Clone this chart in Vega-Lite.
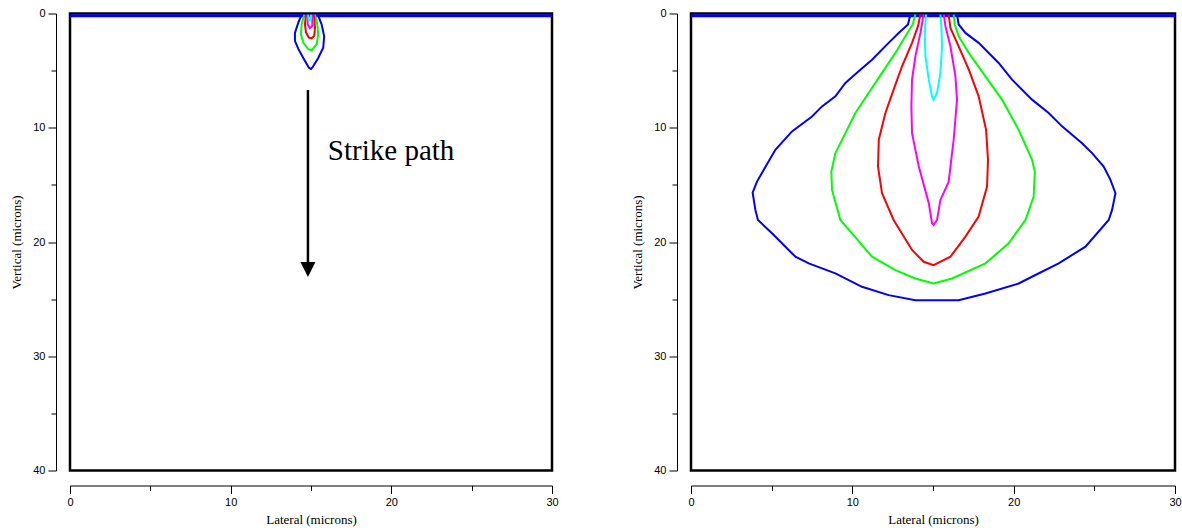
{
  "$schema": "https://vega.github.io/schema/vega-lite/v6.json",
  "background": "white",
  "padding": {"left": 9, "top": 5.5, "right": 0, "bottom": 0},
  "spacing": 70,
  "config": {
    "view": {"stroke": "black", "strokeWidth": 2.5},
    "axis": {
      "grid": false,
      "domainColor": "black",
      "tickColor": "black",
      "labelColor": "black",
      "titleColor": "black",
      "labelFont": "Liberation Sans",
      "labelFontSize": 11,
      "titleFont": "Liberation Serif",
      "titleFontSize": 13,
      "titleFontWeight": "normal",
      "labelFlush": false,
      "labelOverlap": false
    }
  },
  "datasets": {
    "contours": [
      {"p": "L", "c": "blue", "i": 0, "x": 14.42, "y": 0.1},
      {"p": "L", "c": "blue", "i": 1, "x": 14.21, "y": 0.8},
      {"p": "L", "c": "blue", "i": 2, "x": 14.0, "y": 1.7},
      {"p": "L", "c": "blue", "i": 3, "x": 14.0, "y": 2.4},
      {"p": "L", "c": "blue", "i": 4, "x": 14.21, "y": 3.1},
      {"p": "L", "c": "blue", "i": 5, "x": 14.52, "y": 3.9},
      {"p": "L", "c": "blue", "i": 6, "x": 14.87, "y": 4.75},
      {"p": "L", "c": "blue", "i": 7, "x": 15.0, "y": 4.85},
      {"p": "L", "c": "blue", "i": 8, "x": 15.1, "y": 4.7},
      {"p": "L", "c": "blue", "i": 9, "x": 15.45, "y": 3.9},
      {"p": "L", "c": "blue", "i": 10, "x": 15.76, "y": 3.0},
      {"p": "L", "c": "blue", "i": 11, "x": 15.82, "y": 2.0},
      {"p": "L", "c": "blue", "i": 12, "x": 15.66, "y": 0.95},
      {"p": "L", "c": "blue", "i": 13, "x": 15.45, "y": 0.2},
      {"p": "L", "c": "blue", "i": 14, "x": 15.4, "y": 0.1},
      {"p": "L", "c": "green", "i": 0, "x": 14.58, "y": 0.1},
      {"p": "L", "c": "green", "i": 1, "x": 14.42, "y": 0.94},
      {"p": "L", "c": "green", "i": 2, "x": 14.37, "y": 1.82},
      {"p": "L", "c": "green", "i": 3, "x": 14.52, "y": 2.54},
      {"p": "L", "c": "green", "i": 4, "x": 14.83, "y": 3.13},
      {"p": "L", "c": "green", "i": 5, "x": 15.04, "y": 3.22},
      {"p": "L", "c": "green", "i": 6, "x": 15.35, "y": 2.69},
      {"p": "L", "c": "green", "i": 7, "x": 15.45, "y": 1.82},
      {"p": "L", "c": "green", "i": 8, "x": 15.39, "y": 0.94},
      {"p": "L", "c": "green", "i": 9, "x": 15.25, "y": 0.1},
      {"p": "L", "c": "red", "i": 0, "x": 14.69, "y": 0.1},
      {"p": "L", "c": "red", "i": 1, "x": 14.62, "y": 0.94},
      {"p": "L", "c": "red", "i": 2, "x": 14.69, "y": 1.67},
      {"p": "L", "c": "red", "i": 3, "x": 14.87, "y": 2.11},
      {"p": "L", "c": "red", "i": 4, "x": 15.04, "y": 2.17},
      {"p": "L", "c": "red", "i": 5, "x": 15.2, "y": 1.96},
      {"p": "L", "c": "red", "i": 6, "x": 15.25, "y": 1.23},
      {"p": "L", "c": "red", "i": 7, "x": 15.2, "y": 0.35},
      {"p": "L", "c": "red", "i": 8, "x": 15.14, "y": 0.1},
      {"p": "L", "c": "magenta", "i": 0, "x": 14.79, "y": 0.1},
      {"p": "L", "c": "magenta", "i": 1, "x": 14.79, "y": 0.94},
      {"p": "L", "c": "magenta", "i": 2, "x": 14.93, "y": 1.29},
      {"p": "L", "c": "magenta", "i": 3, "x": 15.08, "y": 1.08},
      {"p": "L", "c": "magenta", "i": 4, "x": 15.08, "y": 0.35},
      {"p": "L", "c": "magenta", "i": 5, "x": 15.04, "y": 0.1},
      {"p": "L", "c": "cyan", "i": 0, "x": 14.83, "y": 0.1},
      {"p": "L", "c": "cyan", "i": 1, "x": 14.85, "y": 0.5},
      {"p": "L", "c": "cyan", "i": 2, "x": 14.93, "y": 0.62},
      {"p": "L", "c": "cyan", "i": 3, "x": 15.0, "y": 0.5},
      {"p": "L", "c": "cyan", "i": 4, "x": 15.0, "y": 0.1},

      {"p": "R", "c": "blue", "i": 0, "x": 13.6, "y": 0.09},
      {"p": "R", "c": "blue", "i": 1, "x": 13.45, "y": 0.96},
      {"p": "R", "c": "blue", "i": 2, "x": 12.87, "y": 1.7},
      {"p": "R", "c": "blue", "i": 3, "x": 12.25, "y": 2.57},
      {"p": "R", "c": "blue", "i": 4, "x": 11.22, "y": 4.04},
      {"p": "R", "c": "blue", "i": 5, "x": 10.39, "y": 5.06},
      {"p": "R", "c": "blue", "i": 6, "x": 9.57, "y": 6.08},
      {"p": "R", "c": "blue", "i": 7, "x": 8.95, "y": 7.25},
      {"p": "R", "c": "blue", "i": 8, "x": 8.12, "y": 8.13},
      {"p": "R", "c": "blue", "i": 9, "x": 7.5, "y": 9.01},
      {"p": "R", "c": "blue", "i": 10, "x": 6.26, "y": 10.32},
      {"p": "R", "c": "blue", "i": 11, "x": 5.23, "y": 11.93},
      {"p": "R", "c": "blue", "i": 12, "x": 4.51, "y": 13.68},
      {"p": "R", "c": "blue", "i": 13, "x": 4.09, "y": 14.71},
      {"p": "R", "c": "blue", "i": 14, "x": 3.82, "y": 15.67},
      {"p": "R", "c": "blue", "i": 15, "x": 3.99, "y": 17.19},
      {"p": "R", "c": "blue", "i": 16, "x": 4.15, "y": 18.07},
      {"p": "R", "c": "blue", "i": 17, "x": 5.02, "y": 19.24},
      {"p": "R", "c": "blue", "i": 18, "x": 6.47, "y": 21.29},
      {"p": "R", "c": "blue", "i": 19, "x": 7.3, "y": 21.87},
      {"p": "R", "c": "blue", "i": 20, "x": 8.95, "y": 22.75},
      {"p": "R", "c": "blue", "i": 21, "x": 10.6, "y": 23.92},
      {"p": "R", "c": "blue", "i": 22, "x": 12.25, "y": 24.65},
      {"p": "R", "c": "blue", "i": 23, "x": 13.91, "y": 25.09},
      {"p": "R", "c": "blue", "i": 24, "x": 16.59, "y": 25.09},
      {"p": "R", "c": "blue", "i": 25, "x": 18.25, "y": 24.5},
      {"p": "R", "c": "blue", "i": 26, "x": 20.31, "y": 23.63},
      {"p": "R", "c": "blue", "i": 27, "x": 21.35, "y": 22.89},
      {"p": "R", "c": "blue", "i": 28, "x": 22.79, "y": 21.87},
      {"p": "R", "c": "blue", "i": 29, "x": 24.45, "y": 20.41},
      {"p": "R", "c": "blue", "i": 30, "x": 25.89, "y": 18.07},
      {"p": "R", "c": "blue", "i": 31, "x": 26.1, "y": 17.19},
      {"p": "R", "c": "blue", "i": 32, "x": 26.31, "y": 15.73},
      {"p": "R", "c": "blue", "i": 33, "x": 26.0, "y": 14.56},
      {"p": "R", "c": "blue", "i": 34, "x": 25.58, "y": 13.39},
      {"p": "R", "c": "blue", "i": 35, "x": 24.86, "y": 12.22},
      {"p": "R", "c": "blue", "i": 36, "x": 24.24, "y": 11.35},
      {"p": "R", "c": "blue", "i": 37, "x": 23.0, "y": 9.88},
      {"p": "R", "c": "blue", "i": 38, "x": 22.17, "y": 8.71},
      {"p": "R", "c": "blue", "i": 39, "x": 21.14, "y": 7.54},
      {"p": "R", "c": "blue", "i": 40, "x": 19.9, "y": 5.79},
      {"p": "R", "c": "blue", "i": 41, "x": 19.07, "y": 4.33},
      {"p": "R", "c": "blue", "i": 42, "x": 17.83, "y": 2.57},
      {"p": "R", "c": "blue", "i": 43, "x": 17.01, "y": 1.7},
      {"p": "R", "c": "blue", "i": 44, "x": 16.59, "y": 0.96},
      {"p": "R", "c": "blue", "i": 45, "x": 16.49, "y": 0.09},
      {"p": "R", "c": "green", "i": 0, "x": 13.91, "y": 0.09},
      {"p": "R", "c": "green", "i": 1, "x": 13.74, "y": 0.96},
      {"p": "R", "c": "green", "i": 2, "x": 13.29, "y": 1.99},
      {"p": "R", "c": "green", "i": 3, "x": 12.67, "y": 3.45},
      {"p": "R", "c": "green", "i": 4, "x": 11.84, "y": 5.2},
      {"p": "R", "c": "green", "i": 5, "x": 11.01, "y": 6.96},
      {"p": "R", "c": "green", "i": 6, "x": 10.19, "y": 8.71},
      {"p": "R", "c": "green", "i": 7, "x": 9.57, "y": 10.47},
      {"p": "R", "c": "green", "i": 8, "x": 8.95, "y": 12.22},
      {"p": "R", "c": "green", "i": 9, "x": 8.7, "y": 13.83},
      {"p": "R", "c": "green", "i": 10, "x": 8.74, "y": 15.44},
      {"p": "R", "c": "green", "i": 11, "x": 9.26, "y": 18.07},
      {"p": "R", "c": "green", "i": 12, "x": 9.98, "y": 19.24},
      {"p": "R", "c": "green", "i": 13, "x": 11.22, "y": 21.29},
      {"p": "R", "c": "green", "i": 14, "x": 12.67, "y": 22.46},
      {"p": "R", "c": "green", "i": 15, "x": 13.91, "y": 23.19},
      {"p": "R", "c": "green", "i": 16, "x": 15.04, "y": 23.63},
      {"p": "R", "c": "green", "i": 17, "x": 16.18, "y": 23.19},
      {"p": "R", "c": "green", "i": 18, "x": 18.25, "y": 21.87},
      {"p": "R", "c": "green", "i": 19, "x": 19.69, "y": 20.12},
      {"p": "R", "c": "green", "i": 20, "x": 20.73, "y": 18.07},
      {"p": "R", "c": "green", "i": 21, "x": 21.24, "y": 16.02},
      {"p": "R", "c": "green", "i": 22, "x": 21.31, "y": 13.83},
      {"p": "R", "c": "green", "i": 23, "x": 21.14, "y": 12.81},
      {"p": "R", "c": "green", "i": 24, "x": 20.31, "y": 10.18},
      {"p": "R", "c": "green", "i": 25, "x": 19.28, "y": 7.54},
      {"p": "R", "c": "green", "i": 26, "x": 18.25, "y": 5.5},
      {"p": "R", "c": "green", "i": 27, "x": 17.22, "y": 3.45},
      {"p": "R", "c": "green", "i": 28, "x": 16.59, "y": 1.99},
      {"p": "R", "c": "green", "i": 29, "x": 16.35, "y": 0.96},
      {"p": "R", "c": "green", "i": 30, "x": 16.28, "y": 0.09},
      {"p": "R", "c": "red", "i": 0, "x": 14.22, "y": 0.09},
      {"p": "R", "c": "red", "i": 1, "x": 14.07, "y": 1.11},
      {"p": "R", "c": "red", "i": 2, "x": 13.7, "y": 2.57},
      {"p": "R", "c": "red", "i": 3, "x": 13.08, "y": 4.62},
      {"p": "R", "c": "red", "i": 4, "x": 12.56, "y": 6.67},
      {"p": "R", "c": "red", "i": 5, "x": 12.05, "y": 8.71},
      {"p": "R", "c": "red", "i": 6, "x": 11.64, "y": 11.05},
      {"p": "R", "c": "red", "i": 7, "x": 11.59, "y": 13.39},
      {"p": "R", "c": "red", "i": 8, "x": 11.84, "y": 15.73},
      {"p": "R", "c": "red", "i": 9, "x": 12.56, "y": 18.07},
      {"p": "R", "c": "red", "i": 10, "x": 13.7, "y": 20.7},
      {"p": "R", "c": "red", "i": 11, "x": 14.42, "y": 21.73},
      {"p": "R", "c": "red", "i": 12, "x": 15.04, "y": 22.02},
      {"p": "R", "c": "red", "i": 13, "x": 16.08, "y": 21.29},
      {"p": "R", "c": "red", "i": 14, "x": 17.01, "y": 19.53},
      {"p": "R", "c": "red", "i": 15, "x": 17.83, "y": 17.78},
      {"p": "R", "c": "red", "i": 16, "x": 18.35, "y": 15.15},
      {"p": "R", "c": "red", "i": 17, "x": 18.41, "y": 12.81},
      {"p": "R", "c": "red", "i": 18, "x": 18.29, "y": 10.18},
      {"p": "R", "c": "red", "i": 19, "x": 17.83, "y": 7.25},
      {"p": "R", "c": "red", "i": 20, "x": 17.22, "y": 4.91},
      {"p": "R", "c": "red", "i": 21, "x": 16.59, "y": 2.87},
      {"p": "R", "c": "red", "i": 22, "x": 16.08, "y": 1.26},
      {"p": "R", "c": "red", "i": 23, "x": 15.97, "y": 0.09},
      {"p": "R", "c": "magenta", "i": 0, "x": 14.42, "y": 0.09},
      {"p": "R", "c": "magenta", "i": 1, "x": 14.22, "y": 1.7},
      {"p": "R", "c": "magenta", "i": 2, "x": 13.91, "y": 3.74},
      {"p": "R", "c": "magenta", "i": 3, "x": 13.7, "y": 5.79},
      {"p": "R", "c": "magenta", "i": 4, "x": 13.66, "y": 8.13},
      {"p": "R", "c": "magenta", "i": 5, "x": 13.7, "y": 10.47},
      {"p": "R", "c": "magenta", "i": 6, "x": 14.12, "y": 13.39},
      {"p": "R", "c": "magenta", "i": 7, "x": 14.74, "y": 16.61},
      {"p": "R", "c": "magenta", "i": 8, "x": 14.94, "y": 18.36},
      {"p": "R", "c": "magenta", "i": 9, "x": 15.04, "y": 18.51},
      {"p": "R", "c": "magenta", "i": 10, "x": 15.25, "y": 18.07},
      {"p": "R", "c": "magenta", "i": 11, "x": 15.46, "y": 16.32},
      {"p": "R", "c": "magenta", "i": 12, "x": 15.97, "y": 14.74},
      {"p": "R", "c": "magenta", "i": 13, "x": 16.28, "y": 11.05},
      {"p": "R", "c": "magenta", "i": 14, "x": 16.49, "y": 7.54},
      {"p": "R", "c": "magenta", "i": 15, "x": 16.39, "y": 5.5},
      {"p": "R", "c": "magenta", "i": 16, "x": 16.08, "y": 2.87},
      {"p": "R", "c": "magenta", "i": 17, "x": 15.77, "y": 1.11},
      {"p": "R", "c": "magenta", "i": 18, "x": 15.67, "y": 0.09},
      {"p": "R", "c": "cyan", "i": 0, "x": 14.57, "y": 0.09},
      {"p": "R", "c": "cyan", "i": 1, "x": 14.49, "y": 1.7},
      {"p": "R", "c": "cyan", "i": 2, "x": 14.53, "y": 3.74},
      {"p": "R", "c": "cyan", "i": 3, "x": 14.74, "y": 5.79},
      {"p": "R", "c": "cyan", "i": 4, "x": 14.94, "y": 7.25},
      {"p": "R", "c": "cyan", "i": 5, "x": 15.04, "y": 7.54},
      {"p": "R", "c": "cyan", "i": 6, "x": 15.25, "y": 6.96},
      {"p": "R", "c": "cyan", "i": 7, "x": 15.46, "y": 5.2},
      {"p": "R", "c": "cyan", "i": 8, "x": 15.56, "y": 2.87},
      {"p": "R", "c": "cyan", "i": 9, "x": 15.52, "y": 1.11},
      {"p": "R", "c": "cyan", "i": 10, "x": 15.46, "y": 0.09}
    ],
    "surface": [{"x": 0, "x2": 30, "y": 0.2}],
    "arrow": [{"x": 14.81, "y": 6.7, "y2": 22.0, "ty": 22.4}],
    "label": [{"x": 16.05, "y": 12.8, "t": "Strike path"}]
  },
  "hconcat": [
    {
      "width": 482,
      "height": 457,
      "layer": [
        {
          "data": {"name": "surface"},
          "mark": {"type": "rule", "color": "#0000ff", "strokeWidth": 3},
          "encoding": {
            "x": {"field": "x", "type": "quantitative", "scale": {"domain": [0, 30], "nice": false},
              "axis": {"title": "Lateral (microns)", "values": [0, 5, 10, 15, 20, 25, 30], "labelExpr": "datum.value % 10 === 0 ? datum.label : ''", "tickSize": {"condition": {"test": "datum.value % 10 === 0", "value": 8}, "value": 5}, "offset": 15, "labelPadding": 3, "titlePadding": 6}},
            "x2": {"field": "x2"},
            "y": {"field": "y", "type": "quantitative", "scale": {"domain": [0, 40], "nice": false, "reverse": true},
              "axis": {"title": "Vertical (microns)", "values": [0, 5, 10, 15, 20, 25, 30, 35, 40], "labelExpr": "datum.value % 10 === 0 ? datum.label : ''", "tickSize": {"condition": {"test": "datum.value % 10 === 0", "value": 8}, "value": 5}, "offset": 14, "labelPadding": 3, "titlePadding": 9}}
          }
        },
        {
          "data": {"name": "contours"},
          "transform": [{"filter": "datum.p === 'L'"}],
          "mark": {"type": "line", "strokeWidth": 2, "interpolate": "linear"},
          "encoding": {
            "x": {"field": "x", "type": "quantitative"},
            "y": {"field": "y", "type": "quantitative"},
            "detail": {"field": "c"},
            "order": {"field": "i", "type": "quantitative"},
            "color": {"field": "c", "type": "nominal", "legend": null, "scale": {"domain": ["blue", "green", "red", "magenta", "cyan"], "range": ["#0000ff", "#00ff00", "#ff0000", "#ff00ff", "#00ffff"]}}
          }
        },
        {
          "data": {"name": "arrow"},
          "mark": {"type": "rule", "color": "black", "strokeWidth": 2.5},
          "encoding": {
            "x": {"field": "x", "type": "quantitative"},
            "y": {"field": "y", "type": "quantitative"},
            "y2": {"field": "y2"}
          }
        },
        {
          "data": {"name": "arrow"},
          "mark": {"type": "point", "shape": "M-1,-1L1,-1L0,1Z", "filled": true, "color": "black", "opacity": 1, "size": 225},
          "encoding": {
            "x": {"field": "x", "type": "quantitative"},
            "y": {"field": "ty", "type": "quantitative"}
          }
        },
        {
          "data": {"name": "label"},
          "mark": {"type": "text", "font": "Liberation Serif", "fontSize": 29, "align": "left", "baseline": "alphabetic", "color": "black"},
          "encoding": {
            "x": {"field": "x", "type": "quantitative"},
            "y": {"field": "y", "type": "quantitative"},
            "text": {"field": "t"}
          }
        }
      ]
    },
    {
      "width": 484,
      "height": 457,
      "layer": [
        {
          "data": {"name": "surface"},
          "mark": {"type": "rule", "color": "#0000ff", "strokeWidth": 3},
          "encoding": {
            "x": {"field": "x", "type": "quantitative", "scale": {"domain": [0, 30], "nice": false},
              "axis": {"title": "Lateral (microns)", "values": [0, 5, 10, 15, 20, 25, 30], "labelExpr": "datum.value % 10 === 0 ? datum.label : ''", "tickSize": {"condition": {"test": "datum.value % 10 === 0", "value": 8}, "value": 5}, "offset": 15, "labelPadding": 3, "titlePadding": 6}},
            "x2": {"field": "x2"},
            "y": {"field": "y", "type": "quantitative", "scale": {"domain": [0, 40], "nice": false, "reverse": true},
              "axis": {"title": "Vertical (microns)", "values": [0, 5, 10, 15, 20, 25, 30, 35, 40], "labelExpr": "datum.value % 10 === 0 ? datum.label : ''", "tickSize": {"condition": {"test": "datum.value % 10 === 0", "value": 8}, "value": 5}, "offset": 14, "labelPadding": 3, "titlePadding": 9}}
          }
        },
        {
          "data": {"name": "contours"},
          "transform": [{"filter": "datum.p === 'R'"}],
          "mark": {"type": "line", "strokeWidth": 2, "interpolate": "linear"},
          "encoding": {
            "x": {"field": "x", "type": "quantitative"},
            "y": {"field": "y", "type": "quantitative"},
            "detail": {"field": "c"},
            "order": {"field": "i", "type": "quantitative"},
            "color": {"field": "c", "type": "nominal", "legend": null, "scale": {"domain": ["blue", "green", "red", "magenta", "cyan"], "range": ["#0000ff", "#00ff00", "#ff0000", "#ff00ff", "#00ffff"]}}
          }
        }
      ]
    }
  ]
}
